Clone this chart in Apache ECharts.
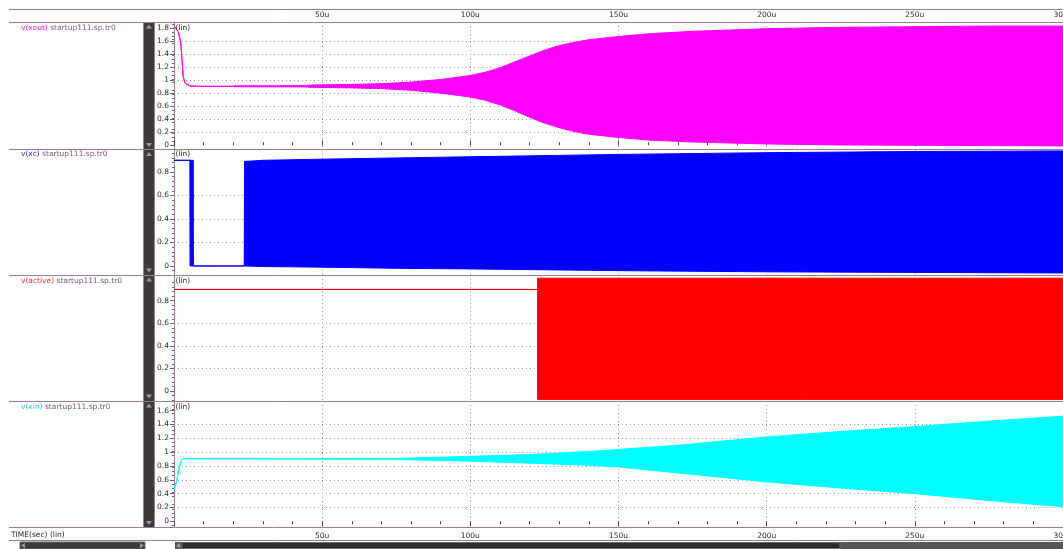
<!DOCTYPE html>
<html>
<head>
<meta charset="utf-8">
<title>startup111 transient</title>
<script src="https://cdn.jsdelivr.net/npm/echarts@6.0.0/dist/echarts.min.js"></script>
<style>
  html, body { margin: 0; padding: 0; background: #ffffff; }
  #chart { width: 1063px; height: 549px; }
</style>
</head>
<body>
<div id="chart"></div>
<script>
// ---- transient results: time in microseconds, node voltages in volts ----
// A node that oscillates faster than the plot can resolve is kept as its
// upper / lower envelope; where the node is settled both arrays are equal.

const xoutTime = [0, 1.4, 2.3, 2.7, 3.1, 3.8, 5.4, 8, 20, 20.5, 45, 46, 60, 70, 80, 90, 100, 105, 110, 115, 120, 125, 130, 135, 140, 150, 160, 175, 200, 225, 250, 275, 300];
const xoutHigh = [1.83, 1.75, 1.57, 1.31, 1.05, 0.95, 0.91, 0.905, 0.905, 0.912, 0.915, 0.925, 0.935, 0.945, 0.97, 1.01, 1.07, 1.12, 1.19, 1.28, 1.37, 1.46, 1.53, 1.58, 1.62, 1.67, 1.71, 1.75, 1.79, 1.81, 1.82, 1.83, 1.83];
const xoutLow  = [1.83, 1.75, 1.57, 1.31, 1.05, 0.95, 0.91, 0.905, 0.905, 0.898, 0.895, 0.89, 0.88, 0.87, 0.845, 0.80, 0.74, 0.69, 0.62, 0.53, 0.43, 0.34, 0.27, 0.21, 0.17, 0.12, 0.08, 0.05, 0.02, 0.005, 0.0, -0.005, -0.01];

const xcTime = [0, 5.4, 5.5, 6.4, 6.5, 23.7, 23.8, 30, 50, 75, 100, 150, 200, 250, 300];
const xcHigh = [0.9, 0.9, 0.9, 0.9, 0, 0, 0.89, 0.9, 0.91, 0.92, 0.93, 0.95, 0.965, 0.975, 0.98];
const xcLow  = [0.9, 0.9, 0, 0, 0, 0, 0, -0.005, -0.01, -0.02, -0.025, -0.04, -0.05, -0.055, -0.06];

const activeTime = [0, 122.8, 122.8, 300];
const activeHigh = [0.9, 0.9, 1.0, 1.0];
const activeLow  = [0.9, 0.9, -0.075, -0.075];

const xinTime = [0, 0.9, 1.8, 2.6, 3.1, 4, 75, 80, 100, 120, 140, 150, 170, 200, 225, 250, 275, 300];
const xinHigh = [0.45, 0.58, 0.79, 0.89, 0.905, 0.905, 0.91, 0.915, 0.94, 0.965, 1.01, 1.04, 1.10, 1.22, 1.30, 1.37, 1.45, 1.52];
const xinLow  = [0.45, 0.58, 0.79, 0.89, 0.905, 0.905, 0.895, 0.89, 0.87, 0.84, 0.81, 0.785, 0.70, 0.57, 0.48, 0.40, 0.30, 0.21];

const signalNames = ['v(xout)', 'v(xc)', 'v(active)', 'v(xin)'];
const sourceFile = 'startup111.sp.tr0';
const timeAxisTitle = 'TIME(sec) (lin)';
const scaleTag = '(lin)';
const timeUnit = 'u';
const timeMin = 0, timeMax = 300, timeStep = 50;

// visible voltage window of every panel and its labelled ticks
const voltMin = [-0.065, -0.077, -0.089, -0.09];
const voltMax = [1.892, 0.992, 1.028, 1.74];
const voltTicks = [
  [0, 0.2, 0.4, 0.6, 0.8, 1, 1.2, 1.4, 1.6, 1.8],
  [0, 0.2, 0.4, 0.6, 0.8],
  [0, 0.2, 0.4, 0.6, 0.8],
  [0, 0.2, 0.4, 0.6, 0.8, 1, 1.2, 1.4, 1.6]
];

const traces = [
  [xoutTime, xoutHigh, xoutLow],
  [xcTime, xcHigh, xcLow],
  [activeTime, activeHigh, activeLow],
  [xinTime, xinHigh, xinLow]
];

// ---- look & layout ----
const FONT = 'DejaVu Sans';
const FS = 7.5;
const PLOT_LEFT = 174, PLOT_W = 889, PAGE_W = 1063, FRAME_LEFT = 9;
const panelTop = [22, 149.5, 275, 401];
const panelH = [127.5, 125.5, 126, 126.5];
const traceColor = ['#ff00ff', '#0000ff', '#ff0000', '#00ffff'];
const nameColor = ['#f020f0', '#3535ff', '#ff3030', '#10dede'];
const FRAME = '#987c98';
const FILE_TXT = '#7a5a7a';
const TXT = '#2a2a2a';
const DOTS = { color: '#9a9a9a', width: 1, type: [1, 3] };

// one quad per sample interval, filled between the two envelopes
function envelopeItem(times, high, low, color) {
  return function (params, api) {
    const i = params.dataIndex;
    if (i >= times.length - 1) return null;
    const pts = [
      api.coord([api.value(0), api.value(1)]),
      api.coord([times[i + 1], high[i + 1]]),
      api.coord([times[i + 1], low[i + 1]]),
      api.coord([api.value(0), api.value(2)])
    ];
    return {
      type: 'polygon',
      shape: { points: pts },
      style: { fill: color, stroke: color, lineWidth: 1 }
    };
  };
}

const grids = panelTop.map((t, i) => ({
  left: PLOT_LEFT, width: PLOT_W, top: t, height: panelH[i],
  containLabel: false, outerBoundsMode: 'none', show: false
}));

const xAxes = panelTop.map((t, i) => {
  const edge = i === 0 || i === panelTop.length - 1;
  return {
    gridIndex: i, type: 'value', min: timeMin, max: timeMax, interval: timeStep,
    position: i === 0 ? 'top' : 'bottom',
    axisLine: { show: false },
    axisTick: { show: edge, length: 5, lineStyle: { color: '#444' } },
    minorTick: { show: edge, splitNumber: 5, length: 3, lineStyle: { color: '#444' } },
    axisLabel: {
      show: edge, showMinLabel: false, showMaxLabel: true,
      formatter: v => v + timeUnit,
      fontFamily: FONT, fontSize: FS, color: TXT, margin: i === 0 ? 3 : 5
    },
    splitLine: { show: true, showMinLine: false, showMaxLine: false, lineStyle: DOTS }
  };
});

const yAxes = panelTop.map((t, i) => ({
  gridIndex: i, type: 'value', min: voltMin[i], max: voltMax[i],
  axisLine: { show: true, lineStyle: { color: FRAME } },
  axisTick: { show: true, length: 4, customValues: voltTicks[i], lineStyle: { color: FILE_TXT } },
  minorTick: { show: true, splitNumber: 5, length: 2, lineStyle: { color: FILE_TXT } },
  axisLabel: {
    customValues: voltTicks[i],
    formatter: v => String(Math.round(v * 10) / 10),
    fontFamily: FONT, fontSize: FS, color: TXT, margin: 5
  },
  splitLine: { show: true, showMinLine: false, showMaxLine: false, lineStyle: DOTS }
}));

const series = traces.map((tr, i) => ({
  type: 'custom',
  xAxisIndex: i, yAxisIndex: i,
  silent: true, clip: true,
  renderItem: envelopeItem(tr[0], tr[1], tr[2], traceColor[i]),
  encode: { x: 0, y: [1, 2] },
  data: tr[0].map((t, k) => [t, tr[1][k], tr[2][k]]),
  z: 5
}));

// ---- frame, panel captions and scroll bars ----
const g = [];
const font = { fontFamily: FONT, fontSize: FS };
const hLine = (y, x1, x2, color) => ({
  type: 'line', z: 100, silent: true,
  shape: { x1: x1, y1: y, x2: x2, y2: y },
  style: { stroke: color, lineWidth: 1 }
});
const vLine = (x, y1, y2, color) => ({
  type: 'line', z: 100, silent: true,
  shape: { x1: x, y1: y1, x2: x, y2: y2 },
  style: { stroke: color, lineWidth: 1 }
});
const tri = (pts, color) => ({
  type: 'polygon', z: 102, silent: true,
  shape: { points: pts }, style: { fill: color }
});

const lastBottom = panelTop[panelTop.length - 1] + panelH[panelH.length - 1];
[9.5].concat(panelTop.map(t => Math.floor(t) + 0.5)).concat([lastBottom, 540.5])
  .forEach(y => g.push(hLine(y, FRAME_LEFT, PAGE_W, FRAME)));

// vertical scroll column left of the value axes
g.push({
  type: 'rect', z: 99, silent: true,
  shape: { x: 144, y: panelTop[0], width: 10, height: lastBottom - panelTop[0] },
  style: { fill: '#3a3a3a' }
});
g.push(vLine(143.5, panelTop[0], lastBottom, FRAME));
g.push(vLine(154.5, panelTop[0], lastBottom, FRAME));

panelTop.forEach((t, i) => {
  const b = t + panelH[i];
  g.push(tri([[149, t + 2.5], [146, t + 6.5], [152, t + 6.5]], '#9a9a9a'));
  g.push(tri([[146, b - 6.5], [152, b - 6.5], [149, b - 2.5]], '#9a9a9a'));
  const cy = t + (i === 1 ? 5 : 6);
  g.push({
    type: 'text', z: 101, silent: true, x: 21, y: cy,
    style: {
      text: '{n|' + signalNames[i] + '} {f|' + sourceFile + '}',
      rich: {
        n: { fill: nameColor[i], fontFamily: FONT, fontSize: FS },
        f: { fill: FILE_TXT, fontFamily: FONT, fontSize: FS }
      },
      fontFamily: FONT, fontSize: FS, fill: FILE_TXT, verticalAlign: 'middle'
    }
  });
  g.push({
    type: 'text', z: 101, silent: true, x: 175.5, y: cy,
    style: Object.assign({ text: scaleTag, fill: TXT, verticalAlign: 'middle' }, font)
  });
});

g.push({
  type: 'text', z: 101, silent: true, x: 11, y: 535.5,
  style: Object.assign({ text: timeAxisTitle, fill: TXT, verticalAlign: 'middle' }, font)
});

// horizontal scroll bars along the bottom edge
g.push({ type: 'rect', z: 99, silent: true, shape: { x: 20, y: 542, width: 125, height: 7 }, style: { fill: '#3a3a3a', stroke: '#6a6a6a', lineWidth: 1 } });
g.push(tri([[21, 545.5], [25, 543], [25, 548]], '#9a9a9a'));
g.push(tri([[144, 545.5], [140, 543], [140, 548]], '#9a9a9a'));
g.push({ type: 'rect', z: 99, silent: true, shape: { x: 175, y: 542, width: 890, height: 7 }, style: { fill: '#565656' } });
g.push({ type: 'rect', z: 99, silent: true, shape: { x: 182, y: 542.5, width: 658, height: 6 }, style: { fill: '#2c2c2c', stroke: '#6a6a6a', lineWidth: 1 } });
g.push(tri([[176, 545.5], [180, 543], [180, 548]], '#9a9a9a'));

const chart = echarts.init(document.getElementById('chart'), null, { renderer: 'canvas' });
chart.setOption({
  animation: false,
  backgroundColor: '#ffffff',
  textStyle: { fontFamily: FONT },
  grid: grids,
  xAxis: xAxes,
  yAxis: yAxes,
  series: series,
  graphic: { elements: g }
});
</script>
</body>
</html>
